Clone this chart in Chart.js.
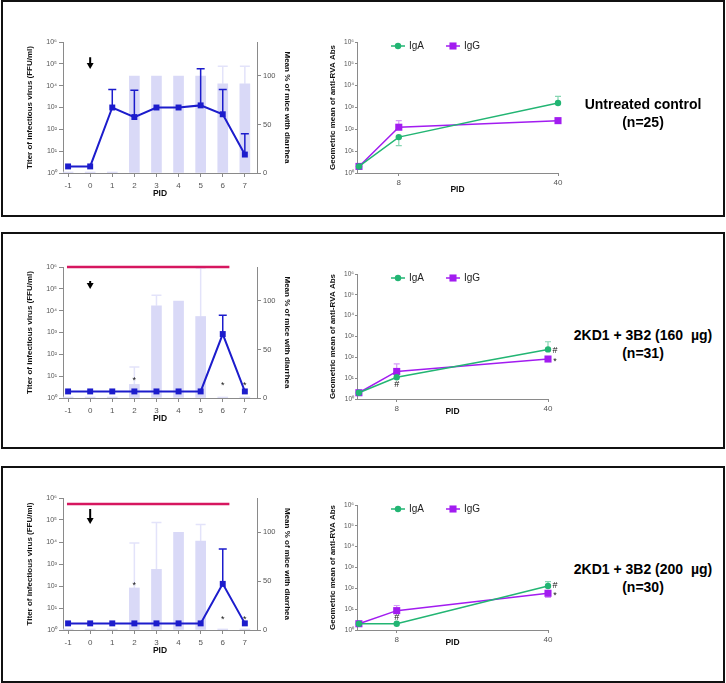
<!DOCTYPE html>
<html lang="en">
<head>
  <meta charset="UTF-8">
  <title>Virus titer and anti-RVA antibodies</title>
  <script src="https://cdn.jsdelivr.net/npm/chart.js"></script>
  <style>
    body { margin: 0; background: #fff; width: 726px; height: 683px; position: relative; overflow: hidden;
           font-family: Arial, "Liberation Sans", sans-serif; }
    .box { position: absolute; left: 1px; width: 724px; height: 217px; box-sizing: border-box; border: 2px solid #111; }
    canvas { position: absolute; }
    .group { position: absolute; left: 560px; width: 166px; text-align: center; font-weight: bold;
             font-size: 14px; line-height: 18px; color: #000; }
  </style>
</head>
<body>
  <div class="box" style="top:0"></div>
  <div class="box" style="top:232px"></div>
  <div class="box" style="top:466px"></div>

  <canvas id="virus1" width="276" height="168" style="left:20px;top:34px"></canvas>
  <canvas id="ab1" width="244" height="165" style="left:324px;top:34px"></canvas>
  <canvas id="virus2" width="276" height="168" style="left:20px;top:259px"></canvas>
  <canvas id="ab2" width="234" height="155" style="left:324px;top:266px"></canvas>
  <canvas id="virus3" width="276" height="169" style="left:20px;top:490px"></canvas>
  <canvas id="ab3" width="234" height="155" style="left:324px;top:497px"></canvas>

  <div class="group" style="top:95px">Untreated control<br>(n=25)</div>
  <div class="group" style="top:326px">2KD1 + 3B2 (160&nbsp; µg)<br>(n=31)</div>
  <div class="group" style="top:560px">2KD1 + 3B2 (200&nbsp; µg)<br>(n=30)</div>

  <script>
    // ---- datos ----
    const pid = [-1, 0, 1, 2, 3, 4, 5, 6, 7];
    const titerTicks = [1, 10, 100, 1000, 10000, 100000, 1000000];
    const pctTicks = [0, 50, 100];
    const abDays = [0, 8, 40];
    const abTicks = [8, 40];
    const arrowX = 0;
    const redX = [-1.05, 6.3];

    // Untreated control (n=25)
    const titerCtrl = [2, 2, 1000, 365, 1000, 1000, 1250, 490, 7];
    const titerCtrlErr = [null, null, 6600, 6200, null, null, 60000, 6600, 63];
    const diarrheaCtrl = [1, 1, 1, 100, 100, 100, 100, 92, 92];
    const diarrheaCtrlErr = [null, null, null, null, null, null, null, 110, 110];
    const arrowCtrl = [2.0e5, 8.9e4];
    const igaCtrl = [2, 44, 1600];
    const igaCtrlHi = [null, null, 3200];
    const igaCtrlLo = [null, 18, null];
    const iggCtrl = [2, 125, 250];
    const iggCtrlHi = [null, 250, null];

    // 2KD1 + 3B2 (160 ug) (n=31)
    const titer160 = [2, 2, 2, 2, 2, 2, 2, 850, 2];
    const titer160Err = [null, null, null, null, null, null, null, 6200, null];
    const diarrhea160 = [1, 1, 1, 14, 95, 100, 84, 1, 1];
    const diarrhea160Err = [null, null, null, 32, 106, null, 134, null, null];
    const arrow160 = [2.3e5, 1.5e5];
    const red160 = 1e6;
    const stars160 = [{x: 2, y: 8, t: '*'}, {x: 6, y: 4.7, t: '*'}, {x: 7, y: 4.7, t: '*'}];
    const iga160 = [2, 11, 240];
    const iga160Hi = [null, null, 560];
    const igg160 = [2, 21, 83];
    const igg160Hi = [null, 48, null];
    const abMarks160 = [{x: 8, y: 5.1, t: '#'}, {x: 41.5, y: 240, t: '#'}, {x: 41.5, y: 83, t: '*'}];

    // 2KD1 + 3B2 (200 ug) (n=30)
    const titer200 = [2, 2, 2, 2, 2, 2, 2, 125, 2];
    const titer200Err = [null, null, null, null, null, null, null, 4800, null];
    const diarrhea200 = [1, 1, 1, 43, 62, 100, 91, 1, 1];
    const diarrhea200Err = [null, null, null, 89, 110, null, 108, null, null];
    const arrow200 = [3.2e5, 1.0e5];
    const red200 = 5.4e5;
    const stars200 = [{x: 2, y: 145, t: '*'}, {x: 6, y: 3.8, t: '*'}, {x: 7, y: 3.8, t: '*'}];
    const iga200 = [2, 2, 130];
    const iga200Hi = [null, null, 210];
    const igg200 = [2, 8.5, 58];
    const igg200Hi = [null, 15, null];
    const igg200Lo = [null, null, 37];
    const abMarks200 = [{x: 8, y: 4.4, t: '#'}, {x: 41.5, y: 145, t: '#'}, {x: 41.5, y: 58, t: '*'}];

    Chart.defaults.font.family = 'Arial, "Liberation Sans", sans-serif';
    const AXIS = '#8a8a8a';
    const TICK = '#555';
    const sup = ['⁰', '¹', '²', '³', '⁴', '⁵', '⁶'];
    const logLabel = v => '10' + sup[Math.round(Math.log10(v))];

    // barras de error dibujadas con las escalas del grafico
    const errorBars = {
      id: 'errorBars',
      beforeDatasetDraw(chart, args) {
        const ds = chart.data.datasets[args.index];
        if (!ds.errHi && !ds.errLo) return;
        const xs = chart.scales[args.meta.xAxisID];
        const ys = chart.scales[args.meta.yAxisID];
        const ctx = chart.ctx;
        ctx.save();
        ctx.strokeStyle = ds.errColor;
        ctx.lineWidth = ds.errWidth || 1.5;
        ds.data.forEach((d, i) => {
          const x = xs.getPixelForValue(d.x);
          const y = ys.getPixelForValue(d.y);
          [ds.errHi && ds.errHi[i], ds.errLo && ds.errLo[i]].forEach(v => {
            if (v == null) return;
            const ye = ys.getPixelForValue(v);
            ctx.beginPath();
            ctx.moveTo(x, y);
            ctx.lineTo(x, ye);
            ctx.moveTo(x - ds.errCap, ye);
            ctx.lineTo(x + ds.errCap, ye);
            ctx.stroke();
          });
        });
        ctx.restore();
      }
    };

    // asteriscos y almohadillas
    const textMarks = {
      id: 'textMarks',
      afterDraw(chart, args, opts) {
        if (!opts.items) return;
        const ctx = chart.ctx;
        const xs = chart.scales.x, ys = chart.scales.y;
        ctx.save();
        ctx.fillStyle = '#111';
        ctx.font = '9px Arial, "Liberation Sans", sans-serif';
        ctx.textAlign = 'center';
        ctx.textBaseline = 'alphabetic';
        opts.items.forEach(m => {
          const shift = m.t === '*' ? 0.57 * 9 : 0.36 * 9;
          ctx.fillText(m.t, xs.getPixelForValue(m.x), ys.getPixelForValue(m.y) + shift);
        });
        ctx.restore();
      }
    };

    // leyenda estilo GraphPad (linea + marcador)
    const miniLegend = {
      id: 'miniLegend',
      afterDraw(chart, args, opts) {
        if (!opts.items) return;
        const {ctx, chartArea} = chart;
        ctx.save();
        opts.items.forEach(it => {
          const ds = chart.data.datasets[it.dataset];
          const x = chartArea.left + it.dx;
          const y = chartArea.top + opts.dy;
          ctx.strokeStyle = ds.borderColor;
          ctx.fillStyle = ds.backgroundColor;
          ctx.lineWidth = 1.5;
          ctx.beginPath();
          ctx.moveTo(x - 7, y);
          ctx.lineTo(x + 7, y);
          ctx.stroke();
          ctx.beginPath();
          if (ds.pointStyle === 'rect') {
            const s = ds.pointRadius * Math.SQRT1_2;
            ctx.rect(x - s, y - s, 2 * s, 2 * s);
          } else {
            ctx.arc(x, y, ds.pointRadius, 0, Math.PI * 2);
          }
          ctx.fill();
          ctx.fillStyle = '#222';
          ctx.font = '10px Arial, "Liberation Sans", sans-serif';
          ctx.textAlign = 'left';
          ctx.textBaseline = 'middle';
          ctx.fillText(ds.label, x + 11, y);
        });
        ctx.restore();
      }
    };

    const gridTicks = len => ({display: true, drawOnChartArea: false, drawTicks: true, tickLength: len, color: AXIS});

    function virusChart(id, p) {
      const datasets = [
        {
          type: 'line', label: 'Titer', yAxisID: 'y', order: 0, clip: false,
          data: pid.map((x, i) => ({x, y: p.titer[i]})),
          errHi: p.titerErr, errColor: '#1c1ccc', errCap: 4,
          borderColor: '#1c1ccc', backgroundColor: '#1c1ccc', borderWidth: 2,
          pointStyle: 'rect', pointRadius: 4.2, pointBorderWidth: 0
        },
        {
          type: 'bar', label: 'Diarrhea', yAxisID: 'y2', order: 3,
          data: pid.map((x, i) => ({x, y: p.pct[i]})),
          errHi: p.pctErr, errColor: '#e3e3fa', errCap: 5,
          backgroundColor: '#d9d9f7', barThickness: 10
        },
        {
          type: 'line', label: 'Arrow', yAxisID: 'y', order: 0, clip: false,
          data: p.arrow.map(y => ({x: arrowX, y})),
          borderColor: '#000', backgroundColor: '#000', borderWidth: 2,
          pointRadius: [0, 4], pointStyle: 'triangle', pointRotation: 180, pointBorderWidth: 0
        }
      ];
      if (p.red) {
        datasets.push({
          type: 'line', label: 'Treatment', yAxisID: 'y', order: 1, clip: false,
          data: redX.map(x => ({x, y: p.red})),
          borderColor: '#d6175f', borderWidth: 2.5, pointRadius: 0
        });
      }
      new Chart(document.getElementById(id), {
        type: 'bar',
        data: {datasets},
        options: {
          responsive: false, animation: false, events: [],
          layout: {padding: {top: 8, bottom: 2, left: 0, right: 0}},
          plugins: {legend: {display: false}, tooltip: {enabled: false}, textMarks: {items: p.stars}},
          scales: {
            x: {
              type: 'linear', min: -1.23, max: 7.55, offset: false,
              afterBuildTicks: s => { s.ticks = pid.map(v => ({value: v})); },
              afterFit: s => { s.height = 27; },
              grid: Object.assign(gridTicks(4), {offset: false}),
              border: {color: AXIS, width: 1},
              ticks: {color: TICK, font: {size: 8}, padding: 4, autoSkip: false, maxRotation: 0},
              title: {display: true, text: 'PID', color: '#111', font: {size: 8.5, weight: 'bold'}, padding: {top: 0, bottom: 1}}
            },
            y: {
              type: 'logarithmic', position: 'left', min: 1, max: 1e6,
              afterBuildTicks: s => { s.ticks = titerTicks.map(v => ({value: v})); },
              afterFit: s => { s.width = 43; },
              grid: gridTicks(4),
              border: {color: AXIS, width: 1},
              ticks: {color: TICK, font: {size: 7}, padding: 2, autoSkip: false, callback: logLabel},
              title: {display: true, text: 'Titer of infectious virus (FFU/ml)', color: '#111', font: {size: 8, weight: 'bold'}, padding: {top: 5, bottom: 0}}
            },
            y2: {
              type: 'linear', position: 'right', min: 0, max: 135,
              afterBuildTicks: s => { s.ticks = pctTicks.map(v => ({value: v})); },
              afterFit: s => { s.width = 39; },
              grid: gridTicks(4),
              border: {color: AXIS, width: 1},
              ticks: {color: TICK, font: {size: 7.5}, padding: 2},
              title: {display: true, text: 'Mean % of mice with diarrhea', color: '#111', font: {size: 8, weight: 'bold'}, padding: {top: 4, bottom: 0}}
            }
          }
        },
        plugins: [errorBars, textMarks]
      });
    }

    function abChart(id, p) {
      new Chart(document.getElementById(id), {
        type: 'line',
        data: {
          datasets: [
            {
              label: 'IgA', clip: false,
              data: abDays.map((x, i) => ({x, y: p.iga[i]})),
              errHi: p.igaHi, errLo: p.igaLo, errColor: 'rgba(34,181,115,0.55)', errCap: 3, errWidth: 1.2,
              borderColor: '#22b573', backgroundColor: '#22b573', borderWidth: 1.5,
              pointStyle: 'circle', pointRadius: 3.2, pointBorderWidth: 0
            },
            {
              label: 'IgG', clip: false,
              data: abDays.map((x, i) => ({x, y: p.igg[i]})),
              errHi: p.iggHi, errLo: p.iggLo, errColor: 'rgba(162,28,240,0.45)', errCap: 3, errWidth: 1.2,
              borderColor: '#a21cf0', backgroundColor: '#a21cf0', borderWidth: 1.5,
              pointStyle: 'rect', pointRadius: 5, pointBorderWidth: 0
            }
          ]
        },
        options: {
          responsive: false, animation: false, events: [],
          layout: {padding: {top: 8, bottom: 2, left: 0, right: 10}},
          plugins: {
            legend: {display: false}, tooltip: {enabled: false},
            textMarks: {items: p.marks},
            miniLegend: {dy: 4, items: [{dataset: 0, dx: 41}, {dataset: 1, dx: 96}]}
          },
          scales: {
            x: {
              type: 'linear', min: -0.4, max: 40,
              afterBuildTicks: s => { s.ticks = abTicks.map(v => ({value: v})); },
              afterFit: s => { s.height = p.xH; },
              grid: gridTicks(3),
              border: {color: AXIS, width: 1},
              ticks: {color: TICK, font: {size: 8}, padding: 2, autoSkip: false, maxRotation: 0},
              title: {display: true, text: 'PID', color: '#111', font: {size: 8.5, weight: 'bold'}, padding: {top: 0, bottom: 2}}
            },
            y: {
              type: 'logarithmic', min: 1, max: 1e6,
              afterBuildTicks: s => { s.ticks = titerTicks.map(v => ({value: v})); },
              afterFit: s => { s.width = 33; },
              grid: gridTicks(2),
              border: {color: AXIS, width: 1},
              ticks: {color: TICK, font: {size: 6.5}, padding: 1, autoSkip: false, callback: logLabel},
              title: {display: true, text: 'Geometric mean of anti-RVA Abs', color: '#111', font: {size: 8, weight: 'bold'}, padding: {top: 4, bottom: 0}}
            }
          }
        },
        plugins: [errorBars, textMarks, miniLegend]
      });
    }

    virusChart('virus1', {titer: titerCtrl, titerErr: titerCtrlErr, pct: diarrheaCtrl, pctErr: diarrheaCtrlErr, arrow: arrowCtrl});
    virusChart('virus2', {titer: titer160, titerErr: titer160Err, pct: diarrhea160, pctErr: diarrhea160Err, arrow: arrow160, red: red160, stars: stars160});
    virusChart('virus3', {titer: titer200, titerErr: titer200Err, pct: diarrhea200, pctErr: diarrhea200Err, arrow: arrow200, red: red200, stars: stars200});

    abChart('ab1', {iga: igaCtrl, igaHi: igaCtrlHi, igaLo: igaCtrlLo, igg: iggCtrl, iggHi: iggCtrlHi, xH: 24});
    abChart('ab2', {iga: iga160, igaHi: iga160Hi, igg: igg160, iggHi: igg160Hi, marks: abMarks160, xH: 20});
    abChart('ab3', {iga: iga200, igaHi: iga200Hi, igg: igg200, iggHi: igg200Hi, iggLo: igg200Lo, marks: abMarks200, xH: 20});
  </script>
</body>
</html>
